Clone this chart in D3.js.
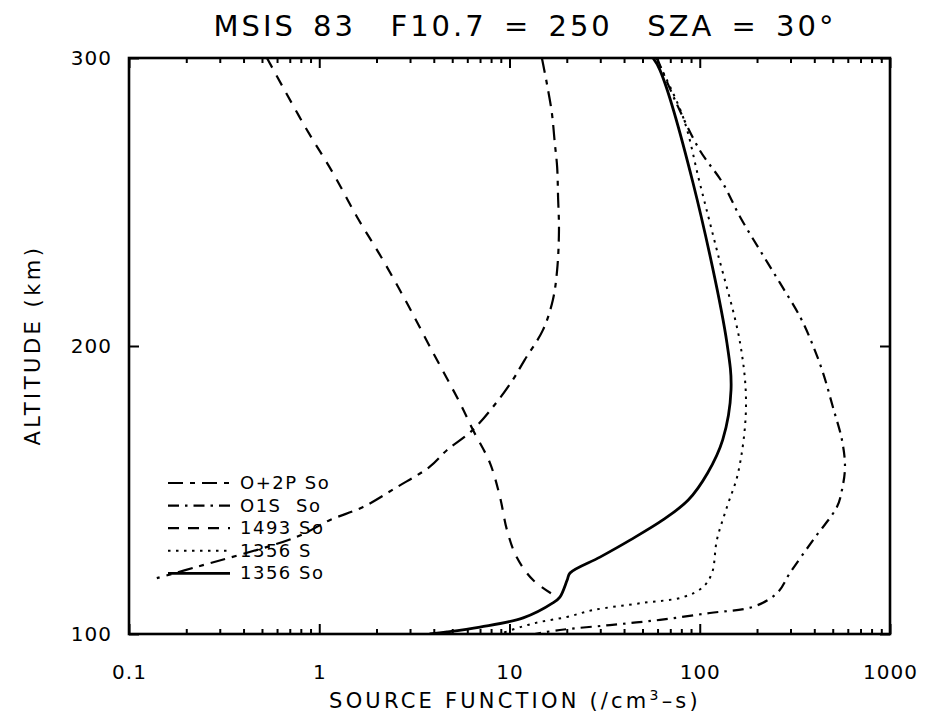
<!DOCTYPE html>
<html><head><meta charset="utf-8">
<script src="https://cdn.jsdelivr.net/npm/d3@7"></script>
<style>
body{margin:0;background:#fff;}
text{font-family:"DejaVu Sans",sans-serif;fill:#000;}
</style></head>
<body><svg id="c" width="925" height="717"></svg>
<script>
// ---- data (altitude km, source function /cm^3-s) ----
const altO2P = [300,291.3,280.9,270.5,262.2,251.7,240.3,226.4,216,205.6,195.1,188.2,180.2,170.8,163.9,158,151,144.1,139.6,133.7,123.3,119.4];
const valO2P = [14.8,15.7,16.7,17.3,17.8,18.0,18.2,17.8,16.9,15.0,12.0,10.4,8.5,6.4,4.7,3.8,2.56,1.70,1.14,0.76,0.227,0.140];

const altO1S = [300,285.4,268,256.6,244.8,233.3,221.9,210.1,201,190.6,178.8,167.4,158,150,144.1,132.6,121.2,114.2,109.4,107.3,104.9,103.1,101.4,100];
const valO1S = [59.6,74.1,100,132,163,207,264,337,389,445,501,559,580,559,526,394,298,255,190,113,61.8,33.7,18.4,13.6];

const alt1493 = [300,289.9,275,260.1,244.8,229.9,214.9,199.7,180.2,170.8,159.4,147.6,136.1,126.7,118.75,112.8];
const val1493 = [0.531,0.644,0.862,1.18,1.58,2.16,2.89,3.82,5.49,6.43,7.89,8.91,9.70,10.9,13.3,17.8];

const alt1356S = [300,279.5,256.6,233.3,201,178.8,155.9,144.1,132.6,121.2,116.3,112.8,110.8,108.3,105.9,104.2,102.4,100];
const val1356S = [58.9,81.7,100,123,163,175,159,139,123,116,104,81.7,50.3,27.5,20,14.5,11.4,8.9];

const alt1356So = [300,295.8,256.6,201,184.7,167.4,155.9,146.5,139.6,132.6,126.7,121.2,118.75,112.8,110.8,105.6,102.4,100.7,100];
const val1356So = [56.8,61.8,92.2,139,146,132,110,87,64,43,29.9,20.8,20.1,18.4,16.9,11.8,7.0,4.7,3.8];

const xMajor = [0.1,1,10,100,1000];
const xTickLabels = ["0.1","1","10","100","1000"];
const yMajor = [100,200,300];
const yTickLabels = ["100","200","300"];
const legendNames = ["O+2P So","O1S  So","1493 So","1356 S","1356 So"];
const titleText = "MSIS 83  F10.7 = 250  SZA = 30°";

// ---- drawing ----
const svg = d3.select("#c");
const L=129,R=890,T=58,B=634;
const x = d3.scaleLog().domain([0.1,1000]).range([L,R]);
const y = d3.scaleLinear().domain([100,300]).range([B,T]);

const series = [
  {alt:altO2P, val:valO2P, dash:"15,7,5,7", w:2.2},
  {alt:altO1S, val:valO1S, dash:"11,6,2.5,6", w:2.2},
  {alt:alt1493, val:val1493, dash:"11,9", w:2.2},
  {alt:alt1356S, val:val1356S, dash:"2.5,5.5", w:2},
  {alt:alt1356So, val:val1356So, dash:null, w:2.8}
];

const line = d3.line().x(d=>x(d[0])).y(d=>y(d[1])).curve(d3.curveCatmullRom.alpha(0.5));
svg.append("clipPath").attr("id","pc").append("rect")
  .attr("x",L).attr("y",T).attr("width",R-L).attr("height",B-T);
const g = svg.append("g").attr("clip-path","url(#pc)");
series.forEach(s=>{
  const pts = s.val.map((v,i)=>[v,s.alt[i]]);
  g.append("path").attr("d",line(pts)).attr("fill","none").attr("stroke","#000")
   .attr("stroke-width",s.w).attr("stroke-dasharray",s.dash).attr("stroke-linecap","butt");
});

// minor ticks
const minor = [];
for(let d=0.1; d<1000; d*=10){ for(let k=2;k<=9;k++) minor.push(d*k); }

function styleAxis(sel){
  sel.select(".domain").remove();
  sel.selectAll(".tick line").attr("stroke","#000").attr("stroke-width",2);
  sel.selectAll("text").attr("font-size",20).attr("font-family","DejaVu Sans").attr("letter-spacing",1);
}
// bottom
svg.append("g").attr("transform",`translate(0,${B})`)
  .call(d3.axisBottom(x).tickValues(minor).tickSize(-5).tickFormat("")).call(styleAxis);
svg.append("g").attr("transform",`translate(0,${B})`)
  .call(d3.axisBottom(x).tickValues(xMajor).tickSize(-10).tickPadding(31)
  .tickFormat((d,i)=>xTickLabels[i])).call(styleAxis);
// top
svg.append("g").attr("transform",`translate(0,${T})`)
  .call(d3.axisTop(x).tickValues(minor).tickSize(-5).tickFormat("")).call(styleAxis);
svg.append("g").attr("transform",`translate(0,${T})`)
  .call(d3.axisTop(x).tickValues(xMajor).tickSize(-10).tickFormat("")).call(styleAxis);
// left
svg.append("g").attr("transform",`translate(${L},0)`)
  .call(d3.axisLeft(y).tickValues(yMajor).tickSize(-10).tickPadding(17)
  .tickFormat((d,i)=>yTickLabels[i])).call(styleAxis);
// right
svg.append("g").attr("transform",`translate(${R},0)`)
  .call(d3.axisRight(y).tickValues(yMajor).tickSize(-10).tickFormat("")).call(styleAxis);

// frame
svg.append("rect").attr("x",L).attr("y",T).attr("width",R-L).attr("height",B-T)
  .attr("fill","none").attr("stroke","#000").attr("stroke-width",2.6);

// title
svg.append("text").attr("x",525).attr("y",36).attr("text-anchor","middle")
  .attr("font-size",29).attr("letter-spacing",3).attr("word-spacing",5)
  .style("white-space","pre").text(titleText);

// axis titles
const xt = svg.append("text").attr("x",515).attr("y",708).attr("text-anchor","middle")
  .attr("font-size",21).attr("letter-spacing",3.2);
xt.append("tspan").text("SOURCE FUNCTION (/cm");
xt.append("tspan").attr("dy",-8).attr("font-size",14).text("3");
xt.append("tspan").attr("dy",8).text("–s)");
svg.append("text").attr("transform","translate(40,345) rotate(-90)").attr("text-anchor","middle")
  .attr("font-size",21).attr("letter-spacing",3.5).text("ALTITUDE (km)");

// legend
const legY0 = 483, legDy = 22.6;
legendNames.forEach((n,i)=>{
  const yy = legY0 + i*legDy;
  svg.append("line").attr("x1",168).attr("x2",230).attr("y1",yy).attr("y2",yy)
    .attr("stroke","#000").attr("stroke-width",series[i].w).attr("stroke-dasharray",series[i].dash);
  svg.append("text").attr("x",240).attr("y",yy+6).attr("font-size",18).attr("letter-spacing",1.5)
    .style("white-space","pre").text(n);
});
</script></body></html>
